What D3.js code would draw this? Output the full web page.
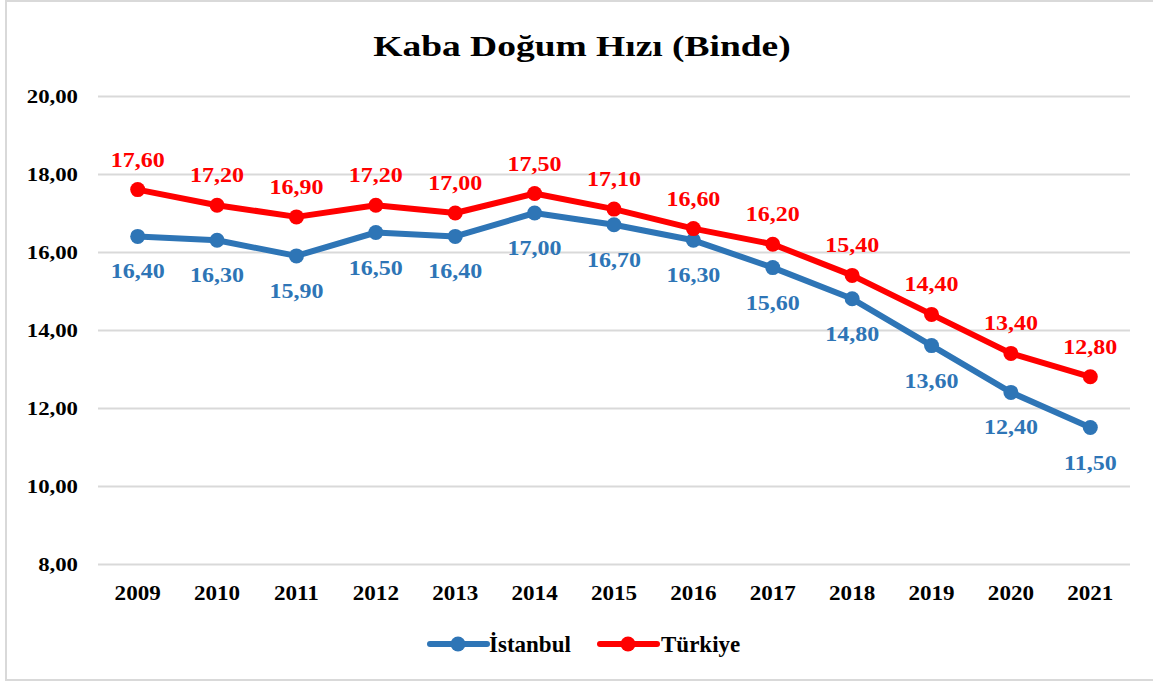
<!DOCTYPE html>
<html><head><meta charset="utf-8">
<script src="https://cdn.jsdelivr.net/npm/d3@7"></script>
<style>body{margin:0;background:#fff}svg{display:block}text{font-family:"Liberation Serif","Times New Roman",serif;font-weight:bold}</style>
</head><body><svg id="c" width="1153" height="684"></svg>
<script>
const years = ["2009","2010","2011","2012","2013","2014","2015","2016","2017","2018","2019","2020","2021"];
const istanbul = [16.4,16.3,15.9,16.5,16.4,17.0,16.7,16.3,15.6,14.8,13.6,12.4,11.5];
const turkiye = [17.6,17.2,16.9,17.2,17.0,17.5,17.1,16.6,16.2,15.4,14.4,13.4,12.8];
const yTicks = [8,10,12,14,16,18,20];
const seriesNames = ["İstanbul","Türkiye"];
const colors = ["#2E75B6","#FF0000"];

const svg = d3.select("#c");
svg.append("rect").attr("x",6).attr("y",1).attr("width",1160).attr("height",679)
  .attr("fill","#fff").attr("stroke","#d9d9d9").attr("stroke-width",2);

const x = d3.scaleBand().domain(years).range([98,1130]);
const y = d3.scaleLinear().domain([8,20]).range([564,96]);
const fmt = v => d3.format(".2f")(v).replace(".",",");

svg.append("text").attr("transform","translate(582,56) scale(1.25,1)").attr("text-anchor","middle")
  .attr("font-size",30).attr("fill","#000").text("Kaba Doğum Hızı (Binde)");

const yPad = 20, ySx = 1.2;
const gy = svg.append("g").attr("transform","translate(98,0)")
  .call(d3.axisLeft(y).tickValues(yTicks).tickSize(-1032).tickFormat(fmt).tickPadding(yPad));
gy.select(".domain").remove();
gy.selectAll(".tick line").attr("stroke","#d9d9d9").attr("stroke-width",2);
gy.selectAll(".tick text").attr("font-size",19).attr("fill","#000")
  .attr("x",-yPad/ySx).attr("transform",`scale(${ySx},1)`)
  .style("font-family","Liberation Serif").style("font-weight","bold");

const gx = svg.append("g").attr("transform","translate(0,564)")
  .call(d3.axisBottom(x).tickSize(0).tickPadding(21));
gx.select(".domain").remove();
gx.selectAll(".tick text").attr("font-size",21).attr("fill","#000")
  .attr("transform","scale(1.1,1)")
  .style("font-family","Liberation Serif").style("font-weight","bold");

const cx = d => x(d) + x.bandwidth()/2;
const data = [istanbul, turkiye];
data.forEach((vals,i)=>{
  const pts = years.map((yr,j)=>[cx(yr), y(vals[j])]);
  svg.append("path").attr("d", d3.line()(pts)).attr("fill","none")
    .attr("stroke",colors[i]).attr("stroke-width",6).attr("stroke-linejoin","round");
  svg.selectAll(null).data(pts).enter().append("circle")
    .attr("cx",d=>d[0]).attr("cy",d=>d[1]).attr("r",7.5).attr("fill",colors[i]);
  svg.selectAll(null).data(years).enter().append("text")
    .attr("transform",(d,j)=>`translate(${cx(d)},${y(vals[j]) + (i===0 ? 42 : -23)}) scale(1.2,1)`)
    .attr("text-anchor","middle").attr("font-size",20).attr("fill",colors[i])
    .text((d,j)=>fmt(vals[j]));
});

// legend
const leg = [[430,489],[600,661]];
seriesNames.forEach((n,i)=>{
  const [lx,tx] = leg[i];
  svg.append("line").attr("x1",lx).attr("x2",lx+57).attr("y1",644).attr("y2",644)
    .attr("stroke",colors[i]).attr("stroke-width",6).attr("stroke-linecap","round");
  svg.append("circle").attr("cx",lx+28).attr("cy",644).attr("r",7.5).attr("fill",colors[i]);
  svg.append("text").attr("x",tx).attr("y",652).attr("font-size",23).attr("fill","#000").text(n);
});
</script></body></html>
